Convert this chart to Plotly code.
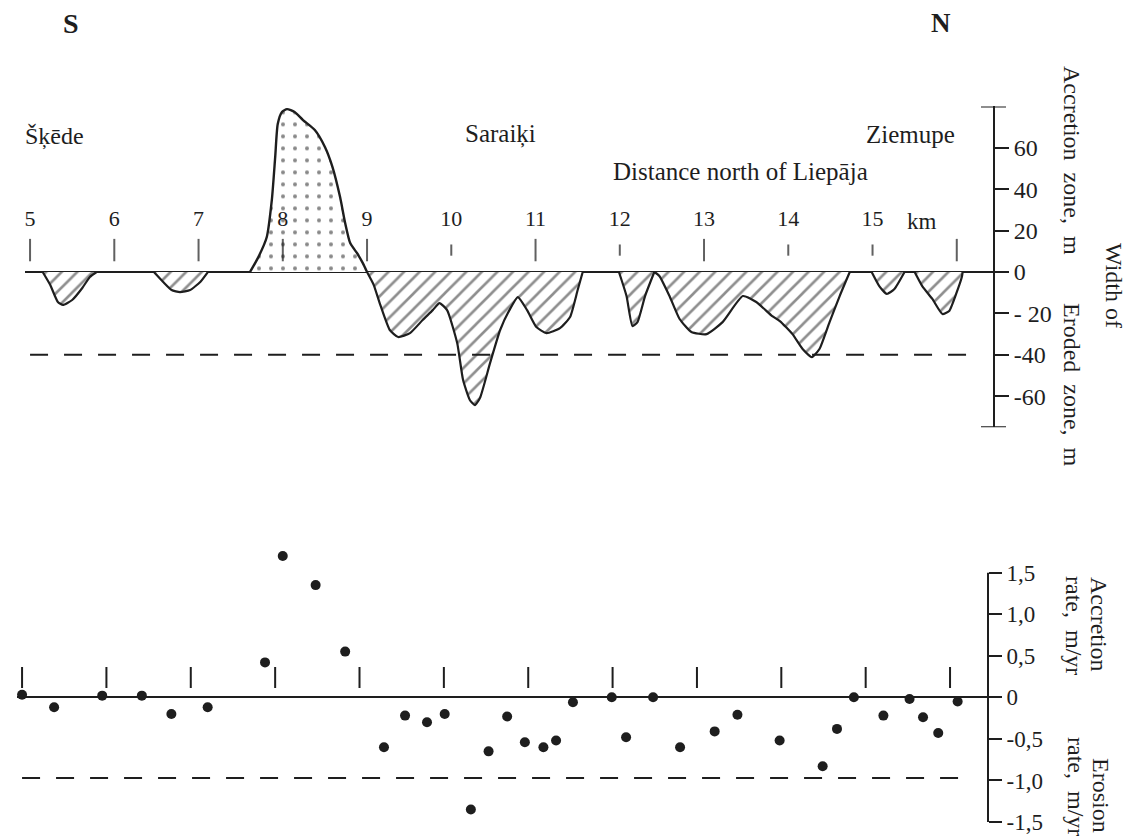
import plotly.graph_objects as go

# ---------------- data ----------------
KM_TICKS = [5, 6, 7, 8, 9, 10, 11, 12, 13, 14, 15, 16]
KM_LABELS = ["5", "6", "7", "8", "9", "10", "11", "12", "13", "14", "15", ""]
SHORT_TICKS = [10, 12, 14, 15]

# width of accretion zone (m) along the coast (km)
ACC_KM = [7.61, 7.71, 7.81, 7.87, 7.91, 7.94, 7.99, 8.05, 8.14, 8.24, 8.38, 8.50,
          8.59, 8.68, 8.74, 8.80, 8.88, 8.95, 9.00]
ACC_W = [0, 7.2, 16.9, 34.8, 55.6, 71.5, 77.3, 78.7, 77.3, 73.4, 68.6, 60.4,
         50.7, 36.2, 23.7, 14.0, 9.2, 4.3, 0]

# width of eroded zone (m), one list per lobe
ERO_KM = [
    [5.15, 5.24, 5.33, 5.39, 5.50, 5.62, 5.71, 5.79],
    [6.47, 6.58, 6.68, 6.78, 6.90, 7.02, 7.11],
    [9.00, 9.08, 9.15, 9.27, 9.37, 9.51, 9.66, 9.78, 9.86, 9.95, 10.07, 10.14, 10.22,
     10.28, 10.34, 10.46, 10.58, 10.69, 10.79, 10.90, 11.01, 11.13, 11.29, 11.41,
     11.50, 11.56],
    [11.99, 12.08, 12.15, 12.21, 12.30, 12.41],
    [12.41, 12.47, 12.59, 12.71, 12.85, 13.03, 13.22, 13.46, 13.62, 13.81, 13.90,
     14.05, 14.17, 14.28, 14.37, 14.49, 14.61, 14.73],
    [14.99, 15.08, 15.17, 15.26, 15.38],
    [15.50, 15.59, 15.71, 15.83, 15.91, 16.00, 16.06, 16.07],
]
ERO_W = [
    [0, -6.3, -14.5, -15.9, -13.5, -7.7, -2.4, 0],
    [0, -4.8, -8.7, -9.7, -8.7, -4.8, 0],
    [0, -6.3, -15.0, -28.0, -31.4, -29.5, -23.2, -18.4, -15.0, -18.4, -34.3, -52.2,
     -61.8, -64.3, -60.9, -44.0, -28.0, -18.4, -12.1, -18.4, -26.6, -29.5, -27.1,
     -21.7, -8.7, 0],
    [0, -11.6, -26.1, -24.2, -11.6, 0],
    [0, -1.9, -11.6, -22.7, -29.0, -30.0, -24.2, -11.6, -14.5, -21.3, -23.7, -30.0,
     -37.2, -41.1, -37.2, -24.2, -11.6, 0],
    [0, -6.8, -10.6, -8.2, 0],
    [0, -6.8, -13.0, -20.3, -18.8, -9.7, -2.4, 0],
]
WIDTH_REF = -40          # dashed reference level, m
DASH_KM = [5.0, 16.2]

# accretion / erosion rate (m/yr)
RATE_KM = [5.00, 5.38, 5.95, 6.42, 6.77, 7.20, 7.88, 8.09, 8.48, 8.83, 9.29, 9.54,
           9.80, 10.01, 10.32, 10.53, 10.75, 10.96, 11.18, 11.33, 11.53, 11.99, 12.16,
           12.48, 12.80, 13.21, 13.48, 13.98, 14.49, 14.66, 14.86, 15.21, 15.52, 15.68,
           15.86, 16.09]
RATE = [0.03, -0.12, 0.02, 0.02, -0.2, -0.12, 0.42, 1.7, 1.35, 0.55, -0.6, -0.22,
        -0.3, -0.2, -1.35, -0.65, -0.23, -0.54, -0.6, -0.52, -0.06, 0.0, -0.48, 0.0,
        -0.6, -0.41, -0.21, -0.52, -0.83, -0.38, 0.0, -0.22, -0.02, -0.24, -0.43, -0.05]
RATE_REF = -0.97

WIDTH_TICKS = [-60, -40, -20, 0, 20, 40, 60]
WIDTH_TICKTEXT = ["-60", "-40", "- 20", "0", "20", "40", "60"]
WIDTH_AXIS_END = [-75, 80]
RATE_TICKS = [-1.5, -1.0, -0.5, 0, 0.5, 1.0, 1.5]
RATE_TICKTEXT = ["-1,5", "-1,0", "-0,5", "0", "0,5", "1,0", "1,5"]
RATE_AXIS_END = [-1.5, 1.5]

# ---------------- style ----------------
W, H = 1135, 837
INK = "#1e1e1e"
FONT = "Liberation Serif, Times New Roman, serif"


def px(x):
    return x / W


def py(y):
    return 1 - y / H


fig = go.Figure()

# erosion lobes (hatched)
ex, ey = [], []
for k, w in zip(ERO_KM, ERO_W):
    ex += k + [None]
    ey += w + [None]
fig.add_trace(go.Scatter(
    x=ex, y=ey, mode="lines", fill="tozeroy", connectgaps=False,
    line=dict(color=INK, width=2.2, shape="spline", smoothing=0.5),
    fillpattern=dict(shape="/", size=11, solidity=0.24, fgcolor=INK, bgcolor="white"),
    xaxis="x", yaxis="y", hoverinfo="skip", showlegend=False))

# accretion zone (dotted)
fig.add_trace(go.Scatter(
    x=ACC_KM, y=ACC_W, mode="lines", fill="tozeroy",
    line=dict(color=INK, width=2.4, shape="spline", smoothing=0.6),
    fillpattern=dict(shape=".", size=12, solidity=0.09, fgcolor="#111111", bgcolor="white"),
    xaxis="x", yaxis="y", hoverinfo="skip", showlegend=False))

# dashed reference lines
fig.add_trace(go.Scatter(
    x=DASH_KM, y=[WIDTH_REF] * 2, mode="lines",
    line=dict(color=INK, width=2, dash="18px,16px"),
    xaxis="x", yaxis="y", hoverinfo="skip", showlegend=False))
fig.add_trace(go.Scatter(
    x=DASH_KM, y=[RATE_REF] * 2, mode="lines",
    line=dict(color=INK, width=2, dash="18px,16px"),
    xaxis="x2", yaxis="y2", hoverinfo="skip", showlegend=False))

# km tick marks on both panels
tick_sizes = [8 if k in SHORT_TICKS else 16 for k in KM_TICKS]
fig.add_trace(go.Scatter(
    x=KM_TICKS, y=[10.6] * len(KM_TICKS), mode="markers",
    marker=dict(symbol="line-ns", size=tick_sizes, line=dict(width=2, color=INK)),
    xaxis="x", yaxis="y", hoverinfo="skip", showlegend=False))
fig.add_trace(go.Scatter(
    x=KM_TICKS, y=[25] * len(KM_TICKS), mode="text", text=KM_LABELS,
    textfont=dict(family=FONT, size=22, color=INK),
    xaxis="x", yaxis="y", hoverinfo="skip", showlegend=False))
fig.add_trace(go.Scatter(
    x=KM_TICKS, y=[0.24] * len(KM_TICKS), mode="markers",
    marker=dict(symbol="line-ns", size=15, line=dict(width=2, color=INK)),
    xaxis="x2", yaxis="y2", hoverinfo="skip", showlegend=False))

# rate dots
fig.add_trace(go.Scatter(
    x=RATE_KM, y=RATE, mode="markers",
    marker=dict(size=10, color=INK),
    xaxis="x2", yaxis="y2", hoverinfo="skip", showlegend=False))

# ---------------- axes ----------------
hidden_x = dict(showgrid=False, zeroline=False, showticklabels=False, ticks="",
                showline=False, fixedrange=True)
fig.update_layout(
    width=W, height=H,
    margin=dict(l=0, r=0, t=0, b=0, pad=0, autoexpand=False),
    paper_bgcolor="white", plot_bgcolor="rgba(0,0,0,0)",
    font=dict(family=FONT, color=INK), showlegend=False,
    xaxis=dict(domain=[px(25), px(993)], range=[4.94, 16.43], anchor="y", **hidden_x),
    xaxis2=dict(domain=[px(17), px(988)], range=[4.94, 16.45], anchor="y2", **hidden_x),
    yaxis=dict(domain=[py(427.3), py(106.4)], range=WIDTH_AXIS_END, anchor="x", side="right",
               showgrid=False, zeroline=True, zerolinecolor=INK, zerolinewidth=2,
               showline=True, linecolor=INK, linewidth=2,
               ticks="outside", ticklen=14, tickwidth=2, tickcolor=INK,
               tickvals=WIDTH_TICKS, ticktext=WIDTH_TICKTEXT,
               tickfont=dict(family=FONT, size=24, color=INK)),
    # range extended above 1.5 so the highest point is drawn; visible axis line drawn as shape
    yaxis2=dict(domain=[py(822), py(539.4)], range=[-1.5, 1.9], anchor="x2", side="right",
                showgrid=False, zeroline=True, zerolinecolor=INK, zerolinewidth=2,
                showline=False,
                ticks="outside", ticklen=13, tickwidth=2, tickcolor=INK,
                tickvals=RATE_TICKS, ticktext=RATE_TICKTEXT,
                tickfont=dict(family=FONT, size=23, color=INK)),
)

# end caps of the width axis
for yv in WIDTH_AXIS_END:
    fig.add_shape(type="line", xref="paper", yref="y", x0=px(981), x1=px(1006),
                  y0=yv, y1=yv, line=dict(color=INK, width=2))
# visible rate axis line between its end ticks
fig.add_shape(type="line", xref="paper", yref="y2", x0=px(988), x1=px(988),
              y0=RATE_AXIS_END[0], y1=RATE_AXIS_END[1], line=dict(color=INK, width=2))


# ---------------- text ----------------
def note(text, x, y, size=24, angle=0, bold=False):
    t = f"<b>{text}</b>" if bold else text
    fig.add_annotation(text=t, x=px(x), y=py(y), xref="paper", yref="paper",
                       showarrow=False, textangle=angle, xanchor="center", yanchor="middle",
                       font=dict(family=FONT, size=size, color=INK))


note("S", 71, 23, size=28, bold=True)
note("N", 941, 23, size=27, bold=True)
note("Šķēde", 54, 137, size=24)
note("Saraiķi", 500, 134, size=25)
note("Ziemupe", 910, 135, size=25)
note("Distance north of Liepāja", 741, 172, size=25)
note("km", 922, 221, size=23)
note("Accretion  zone,  m", 1072, 160, size=24, angle=90)
note("Width of", 1114, 285, size=24, angle=90)
note("Eroded  zone,  m", 1072, 385, size=24, angle=90)
note("Accretion", 1099, 624, size=24, angle=90)
note("rate,  m/yr", 1074, 625, size=24, angle=90)
note("Erosion", 1101, 795, size=24, angle=90)
note("rate,  m/yr", 1076, 786, size=24, angle=90)

fig.write_html("out.html",
               config={"displayModeBar": False, "staticPlot": True},
               post_script="document.body.style.margin='0px';"
                           "document.documentElement.style.overflow='hidden';")
